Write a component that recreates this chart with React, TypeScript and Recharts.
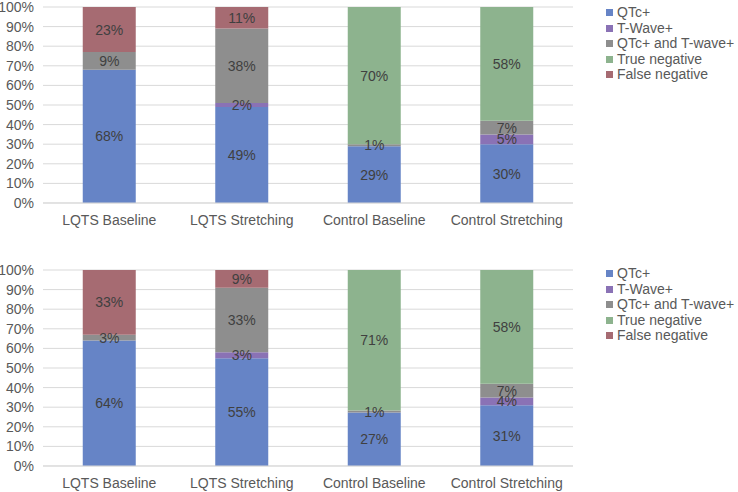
import React from 'react';
import { BarChart, Bar, XAxis, YAxis, CartesianGrid, LabelList } from 'recharts';

const categories = ['LQTS Baseline', 'LQTS Stretching', 'Control Baseline', 'Control Stretching'];
const seriesNames = ['QTc+', 'T-Wave+', 'QTc+ and T-wave+', 'True negative', 'False negative'];
const seriesColors = ['#6684C6', '#8A72B5', '#8E8E8E', '#8DB38E', '#A66B72'];

// top chart, values per series in category order
const topQtc = [68, 49, 29, 30];
const topTwave = [0, 2, 0, 5];
const topBoth = [9, 38, 1, 7];
const topTrueNeg = [0, 0, 70, 58];
const topFalseNeg = [23, 11, 0, 0];

// bottom chart
const botQtc = [64, 55, 27, 31];
const botTwave = [0, 3, 0, 4];
const botBoth = [3, 33, 1, 7];
const botTrueNeg = [0, 0, 71, 58];
const botFalseNeg = [33, 9, 0, 0];

const yTicks = [0, 0.1, 0.2, 0.3, 0.4, 0.5, 0.6, 0.7, 0.8, 0.9, 1];

const keys = ['s0', 's1', 's2', 's3', 's4'];

const buildRows = (cols: number[][]) =>
    categories.map((name, i) => {
        const row: Record<string, string | number> = { name };
        cols.forEach((c, k) => { row[keys[k]] = c[i]; });
        return row;
    });

const topData = buildRows([topQtc, topTwave, topBoth, topTrueNeg, topFalseNeg]);
const botData = buildRows([botQtc, botTwave, botBoth, botTrueNeg, botFalseNeg]);

const font = '"Liberation Sans", Arial, sans-serif';

const LegendBox: React.FC<{ top: number }> = ({ top }) => (
    <div style={{ position: 'absolute', left: 606, top, fontFamily: font, fontSize: 14, color: '#595959', lineHeight: '15.5px' }}>
        {seriesNames.map((n, i) => (
            <div key={n} style={{ display: 'flex', alignItems: 'center', whiteSpace: 'nowrap' }}>
                <span style={{ display: 'inline-block', width: 7, height: 7, background: seriesColors[i], marginRight: 4 }} />
                {n}
            </div>
        ))}
    </div>
);

const StackChart: React.FC<{ data: Record<string, string | number>[]; top: number; bottom: number }> = ({ data, top, bottom }) => (
    <BarChart width={738} height={246} data={data} stackOffset="expand" barCategoryGap="30%"
        margin={{ top, right: 165, left: 0, bottom }}>
        <CartesianGrid stroke="#D9D9D9" vertical={false} />
        <XAxis dataKey="name" tickLine={false} axisLine={{ stroke: '#D9D9D9' }} height={26} tickMargin={6}
            tick={{ fill: '#595959', fontSize: 14, fontFamily: font }} interval={0} />
        <YAxis ticks={yTicks} domain={[0, 1]} width={43} tickLine={false} axisLine={false} tickMargin={3} interval={0}
            tick={{ fill: '#595959', fontSize: 14, fontFamily: font }} tickFormatter={(v: number) => `${Math.round(v * 100)}%`} />
        {keys.map((k, i) => (
            <Bar key={k} dataKey={k} name={seriesNames[i]} stackId="a" fill={seriesColors[i]} isAnimationActive={false}>
                <LabelList dataKey={k} position="center" fill="#404040" fontSize={14} fontFamily={font}
                    formatter={(v: any) => (Number(v) > 0 ? `${v}%` : '')} />
            </Bar>
        ))}
    </BarChart>
);

export default function App() {
    return (
        <div style={{ position: 'absolute', left: 0, top: 0, width: 738, height: 492, background: '#fff' }}>
            <StackChart data={topData} top={7} bottom={17} />
            <StackChart data={botData} top={24} bottom={0} />
            <LegendBox top={5} />
            <LegendBox top={266} />
        </div>
    );
}
